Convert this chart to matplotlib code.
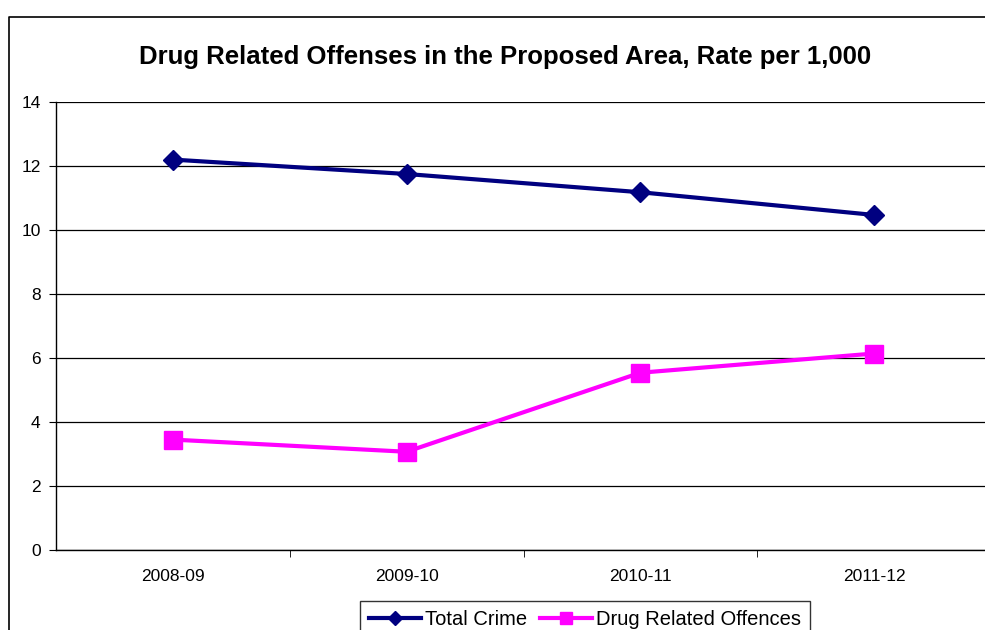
import matplotlib.pyplot as plt
from matplotlib.lines import Line2D

plt.rcParams['font.family'] = ['Liberation Sans', 'DejaVu Sans']

years = ["2008-09", "2009-10", "2010-11", "2011-12"]
total_crime = [12.2, 11.75, 11.18, 10.47]
drug_offences = [3.45, 3.07, 5.54, 6.14]

fig = plt.figure(figsize=(9.85, 6.3), dpi=100)

# outer chart frame: left and top edges only, the rest runs off the image
fx, fy = 9 / 985, 1 - 17 / 630
fig.lines.append(Line2D([fx, fx, 1.05], [-0.05, fy, fy], transform=fig.transFigure,
                        color="black", linewidth=1.2))

ax = fig.add_axes([56 / 985, 80 / 630, 935 / 985, 448 / 630])

x = range(len(years))
ax.plot(x, total_crime, color="#000080", linewidth=3, marker="D",
        markersize=10, label="Total Crime")
ax.plot(x, drug_offences, color="#FF00FF", linewidth=3, marker="s",
        markersize=13, label="Drug Related Offences")

ax.set_xlim(-0.5, 3.5)
ax.set_ylim(0, 14)
ax.set_yticks(range(0, 15, 2))
ax.set_xticks(list(x))
ax.set_xticklabels(years)
ax.set_xticks([0.5, 1.5, 2.5], minor=True)
ax.tick_params(axis="x", which="major", length=0, pad=14, labelsize=12.5)
ax.tick_params(axis="x", which="minor", length=5, direction="out")
ax.tick_params(axis="y", length=5, direction="out", labelsize=12.5, pad=6)

ax.grid(axis="y", color="black", linewidth=0.9)
ax.set_axisbelow(True)
for side in ["top", "right"]:
    ax.spines[side].set_visible(False)
ax.spines["left"].set_linewidth(1)
ax.spines["bottom"].set_linewidth(1)

fig.text(505 / 985, 1 - 57 / 630,
         "Drug Related Offenses in the Proposed Area, Rate per 1,000",
         ha="center", va="center", fontsize=18.5, fontweight="bold")

leg = fig.legend(loc="upper center", bbox_to_anchor=(585 / 985, 1 - 601 / 630),
                 ncol=2, frameon=True, fancybox=False, fontsize=14.5,
                 handlelength=2.6, handletextpad=0.2, columnspacing=0.6,
                 borderpad=0.45, borderaxespad=0, markerscale=0.7)
leg.get_frame().set_edgecolor("black")
leg.get_frame().set_linewidth(1)

fig.savefig("out.png", dpi=100)
